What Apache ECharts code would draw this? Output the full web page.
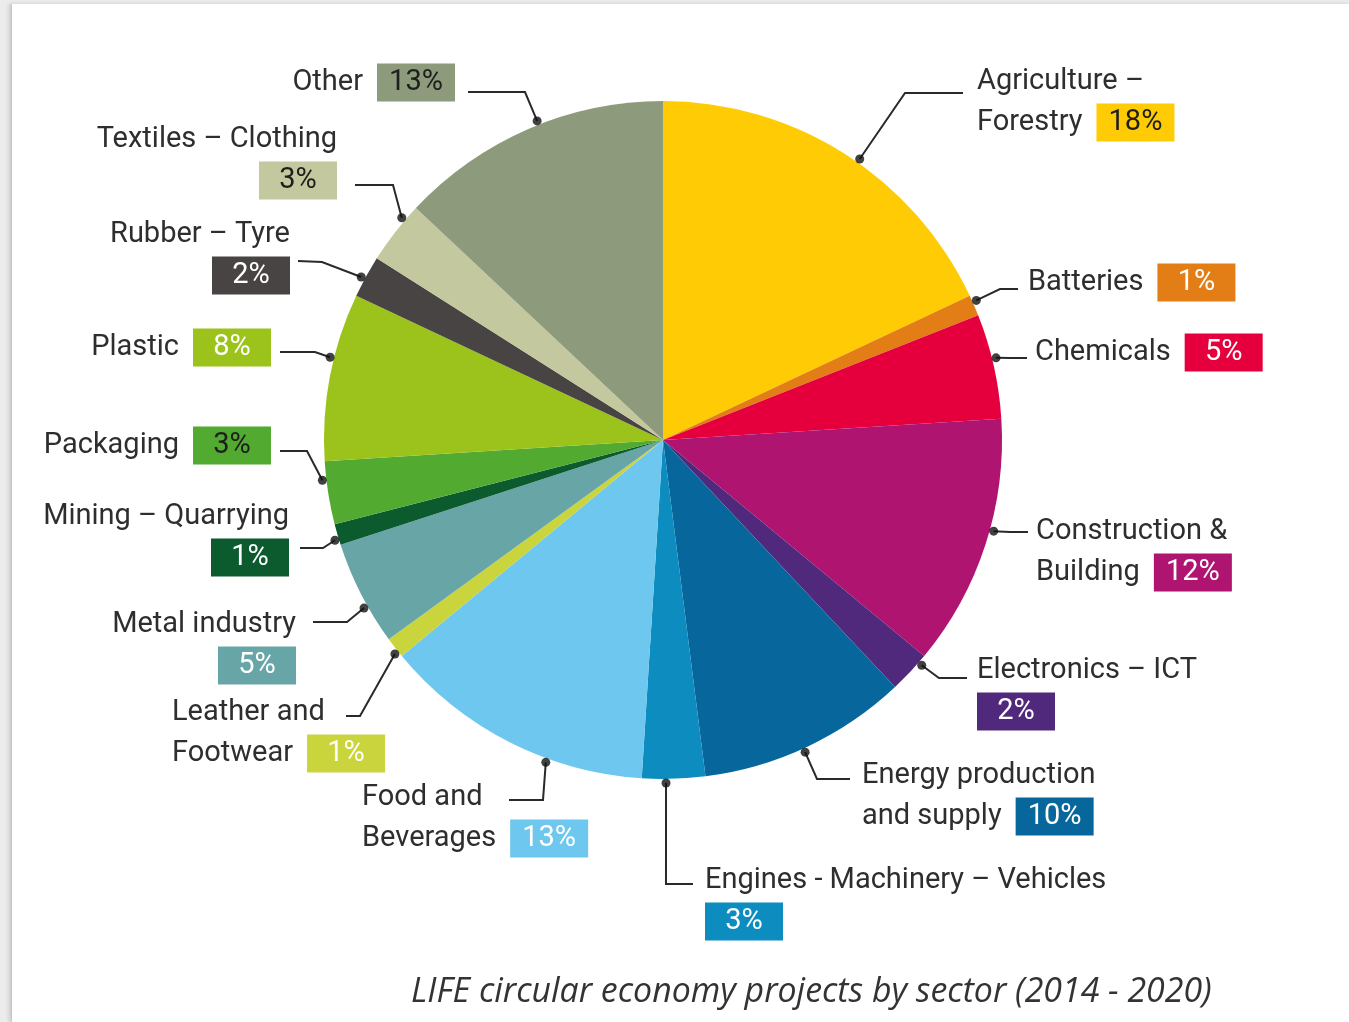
<!DOCTYPE html>
<html>
<head>
<meta charset="utf-8">
<script src="https://cdn.jsdelivr.net/npm/echarts@6/dist/echarts.min.js"></script>
<style>
html,body{margin:0;padding:0;width:1349px;height:1022px;overflow:hidden;background:#ececec;}
#frame{position:absolute;left:11px;top:4px;width:1338px;height:1018px;background:#fff;border-left:1px solid #c6c6c6;box-shadow:-2px 0 4px rgba(0,0,0,0.15);}
#chart{position:absolute;left:0;top:0;width:1349px;height:1022px;}
</style>
</head>
<body>
<div id="frame"></div>
<div id="chart"></div>
<script>
// ---- data ----
const sectors = [
  'Agriculture – Forestry', 'Batteries', 'Chemicals', 'Construction & Building',
  'Electronics – ICT', 'Energy production and supply', 'Engines - Machinery – Vehicles',
  'Food and Beverages', 'Leather and Footwear', 'Metal industry', 'Mining – Quarrying',
  'Packaging', 'Plastic', 'Rubber – Tyre', 'Textiles – Clothing', 'Other'
];
const shares = [18, 1, 5, 12, 2, 10, 3, 13, 1, 5, 1, 3, 8, 2, 3, 13];
// label text, split in lines as printed
const labelText = [
  ['Agriculture –', 'Forestry'], ['Batteries'], ['Chemicals'], ['Construction &', 'Building'],
  ['Electronics – ICT'], ['Energy production', 'and supply'], ['Engines - Machinery – Vehicles'],
  ['Food and', 'Beverages'], ['Leather and', 'Footwear'], ['Metal industry'], ['Mining – Quarrying'],
  ['Packaging'], ['Plastic'], ['Rubber – Tyre'], ['Textiles – Clothing'], ['Other']
];
const titleText = 'LIFE circular economy projects by sector (2014 - 2020)';

// ---- styles ----
const colors = ['#FFCB05', '#E37E17', '#E5003D', '#AE1470', '#50297D', '#07679D', '#0D8CC0',
  '#6EC7EE', '#CAD43C', '#67A5A7', '#0C5B2F', '#52AA31', '#9BC31B', '#484443', '#C3C89E', '#8E9A7C'];
const pctColors = ['#1e1e1e', '#fff', '#fff', '#fff', '#fff', '#fff', '#fff', '#fff', '#fff', '#fff',
  '#fff', '#1e1e1e', '#fff', '#fff', '#1e1e1e', '#1e1e1e'];
const FONT = 'Roboto';
const TITLE_FONT = 'Open Sans';
const FS = 29;
const LH = 41;
const BOX_W = 78;
const TITLE_W = 801;
const CX = 663, CY = 440, R = 339, R_DOT = 343;

// ---- label layout (positions only) ----
// own: percentage box on its own line; frac: where the leader starts within the slice
const labelLayoutCfg = [
  {x: 977, y: 61, align: 'left', own: false, frac: 0.54, elbow: [905, 93], end: [963, 93]},
  {x: 1028, y: 262, align: 'left', own: false, frac: 0.33, elbow: [1000, 289], end: [1018, 289]},
  {x: 1035, y: 332, align: 'left', own: false, frac: 0.43, elbow: [1010, 358], end: [1027, 358]},
  {x: 1036, y: 511, align: 'left', own: false, frac: 0.44, elbow: [1010, 532], end: [1028, 532]},
  {x: 977, y: 650, align: 'left', own: true, frac: 0.2, elbow: [939, 678], end: [967, 678]},
  {x: 862, y: 755, align: 'left', own: false, frac: 0.52, elbow: [817, 779], end: [850, 779]},
  {x: 705, y: 860, align: 'left', own: true, frac: 0.62, elbow: [666, 884], end: [693, 884]},
  {x: 362, y: 777, align: 'left', own: false, frac: 0.35, elbow: [543, 800], end: [509, 800]},
  {x: 172, y: 692, align: 'left', own: false, frac: 0.28, elbow: [360, 716], end: [346, 716]},
  {x: 296, y: 604, align: 'right', own: true, frac: 0.37, elbow: [347, 622], end: [313, 622]},
  {x: 289, y: 496, align: 'right', own: true, frac: 0.28, elbow: [323, 548], end: [300, 548]},
  {x: 271, y: 425, align: 'right', own: false, frac: 0.71, elbow: [307, 451], end: [280, 451]},
  {x: 271, y: 327, align: 'right', own: false, frac: 0.61, elbow: [315, 352], end: [280, 352]},
  {x: 290, y: 214, align: 'right', own: true, frac: 0.44, elbow: [322, 262], end: [298, 261]},
  {x: 337, y: 119, align: 'right', own: true, frac: 0.74, elbow: [393, 185], end: [355, 185]},
  {x: 455, y: 62, align: 'right', own: false, frac: 0.54, elbow: [525, 92], end: [468, 92]}
];

// ---- derived ----
const total = shares.reduce((a, b) => a + b, 0);
const cumStart = [];
shares.reduce((acc, v, i) => { cumStart[i] = acc; return acc + v; }, 0);
const anchorValue = shares.map((v, i) => cumStart[i] + v * labelLayoutCfg[i].frac);
function anchorPoint(i) {
  const a = anchorValue[i] / total * Math.PI * 2;
  return [CX + R_DOT * Math.sin(a), CY - R_DOT * Math.cos(a)];
}

const ctx = document.createElement('canvas').getContext('2d');
ctx.font = FS + 'px ' + FONT;
const rich = {
  t: {fontFamily: FONT, fontSize: FS, color: '#2e2e2e', lineHeight: LH},
  g: {width: 14, lineHeight: LH}
};
shares.forEach((v, i) => {
  const w = ctx.measureText(v + '%').width;
  const p = Math.max(0, (BOX_W - w) / 2);
  rich['b' + i] = {
    fontFamily: FONT, fontSize: FS, color: pctColors[i], backgroundColor: colors[i],
    height: 38, lineHeight: LH, padding: [0, p, 0, p]
  };
});
// fit title font to the printed width
ctx.font = 'italic 30px "' + TITLE_FONT + '"';
let titleFS = 30 * TITLE_W / ctx.measureText(titleText).width;
titleFS = Math.max(27, Math.min(34, titleFS));

function labelFormatter(params) {
  const i = params.dataIndex;
  const lines = labelText[i];
  const box = '{b' + i + '|' + shares[i] + '%}';
  const parts = lines.map(l => '{t|' + l + '}');
  if (labelLayoutCfg[i].own) {
    return parts.join('\n') + '\n' + box;
  }
  parts[parts.length - 1] += '{g| }' + box;
  return parts.join('\n');
}

const pieData = sectors.map((name, i) => ({
  name: name, value: shares[i], itemStyle: {color: colors[i]}
}));
const dotData = anchorValue.map(v => [1, v]);

const chart = echarts.init(document.getElementById('chart'), null, {renderer: 'canvas'});
chart.setOption({
  animation: false,
  backgroundColor: 'transparent',
  title: {
    text: titleText, left: 411, top: 975, padding: 0,
    textStyle: {fontFamily: TITLE_FONT, fontSize: titleFS, fontStyle: 'italic', fontWeight: 'normal', color: '#333'}
  },
  polar: {center: [CX, CY], radius: R_DOT},
  angleAxis: {type: 'value', min: 0, max: total, startAngle: 90, clockwise: true, show: false},
  radiusAxis: {type: 'value', min: 0, max: 1, show: false},
  series: [
    {
      type: 'pie',
      center: [CX, CY],
      radius: R,
      startAngle: 90,
      clockwise: true,
      avoidLabelOverlap: false,
      silent: true,
      data: pieData,
      itemStyle: {borderWidth: 0},
      label: {
        show: true, position: 'outside', alignTo: 'none',
        fontFamily: FONT, fontSize: FS, color: '#2e2e2e',
        formatter: labelFormatter, rich: rich
      },
      labelLine: {show: true, length: 20, length2: 20, smooth: false, lineStyle: {color: '#2a2a2a', width: 2}},
      labelLayout: function (params) {
        const i = params.dataIndex;
        const L = labelLayoutCfg[i];
        return {
          x: L.x, y: L.y, align: L.align, verticalAlign: 'top',
          labelLinePoints: [anchorPoint(i), L.elbow, L.end]
        };
      }
    },
    {
      type: 'scatter',
      coordinateSystem: 'polar',
      symbol: 'circle',
      symbolSize: 9,
      silent: true,
      z: 5,
      itemStyle: {color: '#111'},
      data: dotData
    }
  ]
});
</script>
</body>
</html>
